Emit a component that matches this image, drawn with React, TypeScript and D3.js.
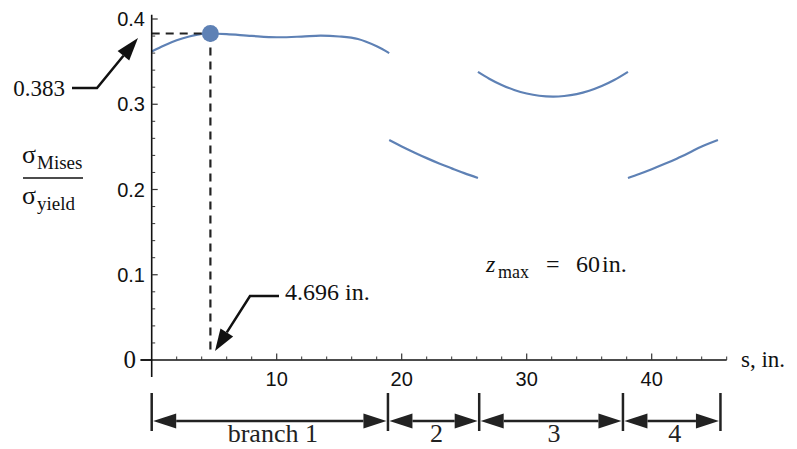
import React from "react";
import * as d3 from "d3";

// ---- data ----
const branch1S = [0, 1, 2, 3, 4, 4.696, 6, 8, 10, 12, 13.5, 15, 16.5, 18, 19];
const branch1V = [0.362, 0.369, 0.375, 0.3795, 0.3825, 0.383, 0.3823, 0.3802, 0.3786, 0.3794, 0.3805, 0.3795, 0.3765, 0.368, 0.36];
const branch2S = [19, 20, 21, 22, 23, 24, 25, 26.1];
const branch2V = [0.258, 0.2505, 0.2435, 0.2368, 0.2305, 0.2248, 0.2192, 0.2135];
const branch3S = [26.1, 27, 28, 29, 30, 31, 32.1, 33, 34, 35, 36, 37, 38.1];
const branch3V = [0.338, 0.330, 0.3226, 0.3168, 0.3126, 0.31, 0.309, 0.3097, 0.3119, 0.3158, 0.3213, 0.3284, 0.338];
const branch4S = [38.1, 39, 40, 41, 42, 43, 44, 45.3];
const branch4V = [0.2135, 0.2182, 0.2238, 0.2298, 0.2362, 0.2432, 0.2505, 0.258];
const branchBounds = [0, 18.9, 26.2, 37.7, 45.5];
const branchLabels = ["branch 1", "2", "3", "4"];
const xMajorTicks = [10, 20, 30, 40];
const yMajorTicks = [0.1, 0.2, 0.3, 0.4];
const yTickLabels = ["0.1", "0.2", "0.3", "0.4"];
const maxS = 4.696;
const maxV = 0.383;

const BLUE = "#5e81b5";
const SERIF = "'Liberation Serif', 'Times New Roman', serif";
const SANS = "'Liberation Sans', Arial, sans-serif";

function head(tipX: number, tipY: number, fromX: number, fromY: number, len: number, hw: number) {
  const dx = tipX - fromX, dy = tipY - fromY;
  const L = Math.hypot(dx, dy);
  const ux = dx / L, uy = dy / L;
  const bx = tipX - ux * len, by = tipY - uy * len;
  const px = -uy, py = ux;
  return {
    pts: `${tipX},${tipY} ${bx + px * hw},${by + py * hw} ${bx - px * hw},${by - py * hw}`,
    bx, by,
  };
}

export default function App() {
  const x = d3.scaleLinear().domain([0, 10]).range([151.7, 276.7]);
  const y = d3.scaleLinear().domain([0, 0.4]).range([360, 19]);
  const line = d3
    .line<[number, number]>()
    .x((d) => x(d[0]))
    .y((d) => y(d[1]))
    .curve(d3.curveCatmullRom.alpha(0.5));
  const branches = [
    [branch1S, branch1V],
    [branch2S, branch2V],
    [branch3S, branch3V],
    [branch4S, branch4V],
  ].map(([s, v]) => s.map((si, i) => [si, v[i]] as [number, number]));

  const xMinor = d3.range(2, 47, 2).filter((t) => t % 10 !== 0);
  const yMinor = d3.range(0.02, 0.401, 0.02).filter((t) => Math.abs(t * 10 - Math.round(t * 10)) > 1e-6);
  const x0 = x(0);
  const y0 = y(0);

  const a1 = head(138, 38, 97, 88, 23, 7.5);
  const a2 = head(215, 351, 250, 296, 22, 7.5);

  const rowY = 421;
  const dimHeads = (xa: number, xb: number) => {
    const h1 = head(xa, rowY, xb, rowY, 23, 7.5);
    const h2 = head(xb, rowY, xa, rowY, 23, 7.5);
    return (
      <g>
        <line x1={h1.bx} y1={rowY} x2={h2.bx} y2={rowY} stroke="#222" strokeWidth={2.5} />
        <polygon points={h1.pts} fill="#222" />
        <polygon points={h2.pts} fill="#222" />
      </g>
    );
  };

  return (
    <svg width={797} height={449} style={{ position: "absolute", left: 0, top: 0, background: "#fff" }}>
      {branches.map((b, i) => (
        <path key={i} d={line(b) || ""} fill="none" stroke={BLUE} strokeWidth={2.2} />
      ))}
      <line x1={x0} y1={y(maxV)} x2={x(maxS)} y2={y(maxV)} stroke="#222" strokeWidth={2.2} strokeDasharray="8,6" />
      <line x1={x(maxS)} y1={y(maxV)} x2={x(maxS)} y2={y(0.006)} stroke="#222" strokeWidth={2.2} strokeDasharray="8,6" />
      <circle cx={x(maxS)} cy={y(maxV)} r={8.5} fill={BLUE} />

      <line x1={x(-0.9)} y1={y0} x2={x(46)} y2={y0} stroke="#111" strokeWidth={1.6} />
      <line x1={x0} y1={y(-0.02)} x2={x0} y2={y(0.405)} stroke="#111" strokeWidth={1.6} />
      {xMinor.map((t) => (
        <line key={"xm" + t} x1={x(t)} x2={x(t)} y1={y0} y2={y0 - 3.5} stroke="#333" strokeWidth={1} />
      ))}
      {xMajorTicks.map((t) => (
        <g key={"xM" + t}>
          <line x1={x(t)} x2={x(t)} y1={y0} y2={y0 - 6.5} stroke="#333" strokeWidth={1.2} />
          <text x={x(t)} y={386} textAnchor="middle" fontFamily={SANS} fontSize={20} fill="#111">
            {t}
          </text>
        </g>
      ))}
      {yMinor.map((t) => (
        <line key={"ym" + t} x1={x0} x2={x0 + 3.5} y1={y(t)} y2={y(t)} stroke="#333" strokeWidth={1} />
      ))}
      {yMajorTicks.map((t, i) => (
        <g key={"yM" + t}>
          <line x1={x0} x2={x0 + 6} y1={y(t)} y2={y(t)} stroke="#333" strokeWidth={1.2} />
          <text x={145} y={y(t) + 7} textAnchor="end" fontFamily={SANS} fontSize={20} fill="#111">
            {yTickLabels[i]}
          </text>
        </g>
      ))}
      <line x1={x0 - 11} x2={x0} y1={y0} y2={y0} stroke="#111" strokeWidth={1.6} />
      <text x={136} y={y0 + 8} textAnchor="end" fontFamily={SERIF} fontSize={25} fill="#111">
        0
      </text>
      <text x={741} y={367} fontFamily={SERIF} fontSize={23} fill="#111">
        s, in.
      </text>

      <text fontFamily={SERIF} fill="#111">
        <tspan x={22} y={163} fontSize={26}>σ</tspan>
        <tspan x={37} y={169} fontSize={19}>Mises</tspan>
      </text>
      <line x1={23} x2={83} y1={178} y2={178} stroke="#111" strokeWidth={1.5} />
      <text fontFamily={SERIF} fill="#111">
        <tspan x={22} y={204} fontSize={26}>σ</tspan>
        <tspan x={37} y={210} fontSize={19}>yield</tspan>
      </text>

      <text fontFamily={SERIF} fill="#111" fontSize={24}>
        <tspan x={486} y={272} fontStyle="italic">z</tspan>
        <tspan x={498} y={278} fontSize={18}>max</tspan>
        <tspan x={546} y={272}>=</tspan>
        <tspan x={576} y={272}>60</tspan>
        <tspan x={602} y={272}>in.</tspan>
      </text>

      <text x={65} y={96} textAnchor="end" fontFamily={SERIF} fontSize={23} fill="#111">
        0.383
      </text>
      <polyline points={`72,88 97,88 ${a1.bx},${a1.by}`} fill="none" stroke="#111" strokeWidth={2.5} />
      <polygon points={a1.pts} fill="#111" />

      <text x={285} y={300} fontFamily={SERIF} fontSize={24} fill="#111">
        4.696 in.
      </text>
      <polyline points={`279,296 250,296 ${a2.bx},${a2.by}`} fill="none" stroke="#111" strokeWidth={2.5} />
      <polygon points={a2.pts} fill="#111" />

      {branchBounds.map((b, i) => (
        <line key={"bb" + i} x1={x(b)} x2={x(b)} y1={393} y2={431} stroke="#222" strokeWidth={2.5} />
      ))}
      {branchLabels.map((lab, i) => {
        const xa = x(branchBounds[i]);
        const xb = x(branchBounds[i + 1]);
        return (
          <g key={"bl" + i}>
            {dimHeads(xa + 1.5, xb - 1.5)}
            <text x={(xa + xb) / 2 + 3} y={442} textAnchor="middle" fontFamily={SERIF} fontSize={26} fill="#222">
              {lab}
            </text>
          </g>
        );
      })}
    </svg>
  );
}
